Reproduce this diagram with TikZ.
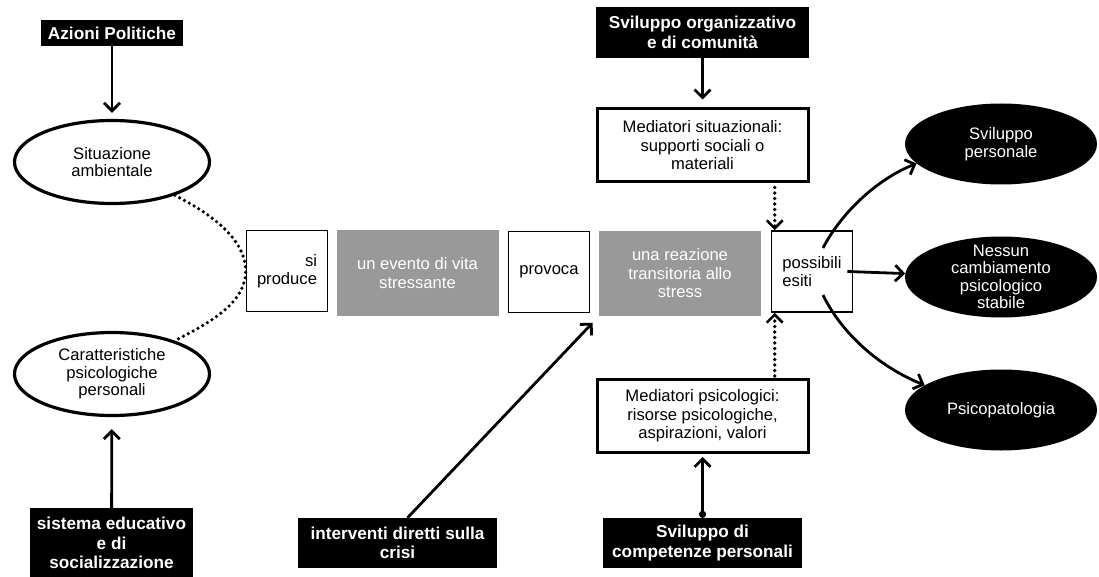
\documentclass[tikz,border=0pt]{standalone}
\usepackage{fontspec}
\setmainfont{Liberation Sans}
\usetikzlibrary{arrows.meta,shapes.geometric}
\definecolor{boxgray}{gray}{0.6}
\newcommand{\txtfont}{\fontsize{16.6}{18.5}\selectfont}
\newcommand{\boldfont}{\fontsize{17.2}{19.5}\selectfont\bfseries}
\tikzset{
  txt/.style={font=\txtfont, align=center, inner sep=0pt},
  blackbox/.style={txt, font=\boldfont, fill=black, text=white},
  thinbox/.style={txt, draw, line width=1.6pt, minimum width=81pt, minimum height=81pt},
  graybox/.style={txt, fill=boxgray, text=white, minimum width=162pt, minimum height=85pt},
  medbox/.style={txt, draw, line width=3pt, minimum width=211pt, minimum height=73pt},
  oval/.style={txt, ellipse, draw, line width=3.2pt, minimum width=195pt, minimum height=83pt,
    font=\fontsize{16.6}{17.5}\selectfont},
  outcome/.style={txt, ellipse, fill=black, text=white, minimum width=192pt, minimum height=81pt,
    font=\fontsize{16.6}{17.5}\selectfont},
  arr/.style={line width=2.8pt, -{Straight Barb[length=8pt,width=16pt]}},
  dotarr/.style={line width=3.6pt, line cap=round, dash pattern=on 0pt off 5.5pt,
    -{Straight Barb[length=8pt,width=16pt,line width=2.6pt]}},
  dots/.style={line width=3.6pt, line cap=round, dash pattern=on 0pt off 5.5pt}
}
\begin{document}
\begin{tikzpicture}[x=1pt,y=-1pt]
  \path[fill=white, use as bounding box] (0,0) rectangle (1099,577);

  % left column
  \node[blackbox, minimum width=142pt, minimum height=26pt] (azioni) at (112,33) {Azioni Politiche};
  \node[oval] (situaz) at (112,162) {Situazione\\ambientale};
  \node[oval] (caratt) at (112,374) {Caratteristiche\\psicologiche\\personali};
  \node[blackbox, minimum width=163pt, minimum height=70pt] (sistema) at (111.5,543)
    {sistema educativo\\e di\\socializzazione};

  % main row
  \node[thinbox, align=right] (siprod) at (287,271) {si\\produce};
  \node[graybox] (evento) at (417.5,273) {un evento di vita\\stressante};
  \node[thinbox] (provoca) at (549,272) {provoca};
  \node[graybox] (reazione) at (680,273.5) {una reazione\\transitoria allo\\stress};
  \node[thinbox, align=left] (esiti) at (812,271.5) {possibili\\esiti};

  % mediators
  \node[blackbox, minimum width=213pt, minimum height=51pt] (svorg) at (702.5,32.5)
    {Sviluppo organizzativo\\e di comunità};
  \node[medbox] (medsit) at (702.5,145.5) {Mediatori situazionali:\\supporti sociali o\\materiali};
  \node[medbox] (medpsi) at (702.5,416) {Mediatori psicologici:\\risorse psicologiche,\\aspirazioni, valori};
  \node[blackbox, minimum width=199pt, minimum height=50pt] (compet) at (702.5,543)
    {Sviluppo di\\competenze personali};
  \node[blackbox, minimum width=199pt, minimum height=50pt] (interv) at (397.5,543)
    {interventi diretti sulla\\crisi};

  % outcomes
  \node[outcome] (svpers) at (1001,144) {Sviluppo\\personale};
  \node[outcome, inner ysep=-8pt] (nessun) at (1001,277) {Nessun\\cambiamento\\psicologico\\stabile};
  \node[outcome] (psicop) at (1001,410) {Psicopatologia};

  \coordinate (topin) at ([xshift=4pt]esiti.north west);
  \coordinate (botin) at ([xshift=4pt]esiti.south west);
  \coordinate (e1) at (823,248);
  \coordinate (e2) at (823,295);

  \draw[arr, shorten >=6pt] (azioni) -- (situaz);
  \draw[arr, shorten >=12pt] (sistema) -- (caratt);
  \draw[arr, shorten >=8pt] (svorg) -- (medsit);
  \draw[dots] (situaz.-28) .. controls +(40,20) and +(0,-30) .. (siprod.west)
    .. controls +(0,30) and +(40,-20) .. (caratt.28);
  \draw[dotarr, shorten <=4pt] (topin |- medsit.south) -- (topin);
  \draw[dotarr, shorten <=2pt] (botin |- medpsi.north) -- (botin);
  \draw[line width=2.8pt, {Circle[length=7pt]}-{Straight Barb[length=8pt,width=16pt]}, shorten >=3pt]
    (compet) -- (medpsi);
  \draw[arr, shorten >=9pt] ([xshift=10pt]interv.north) -- (reazione.south west);
  \draw[arr] (e1) .. controls (840,215) and (875,180) .. (svpers.193);
  \draw[arr] ([xshift=-6pt]esiti.east) -- (nessun);
  \draw[arr] (e2) .. controls (840,330) and (875,365) .. (psicop.162);
\end{tikzpicture}
\end{document}
